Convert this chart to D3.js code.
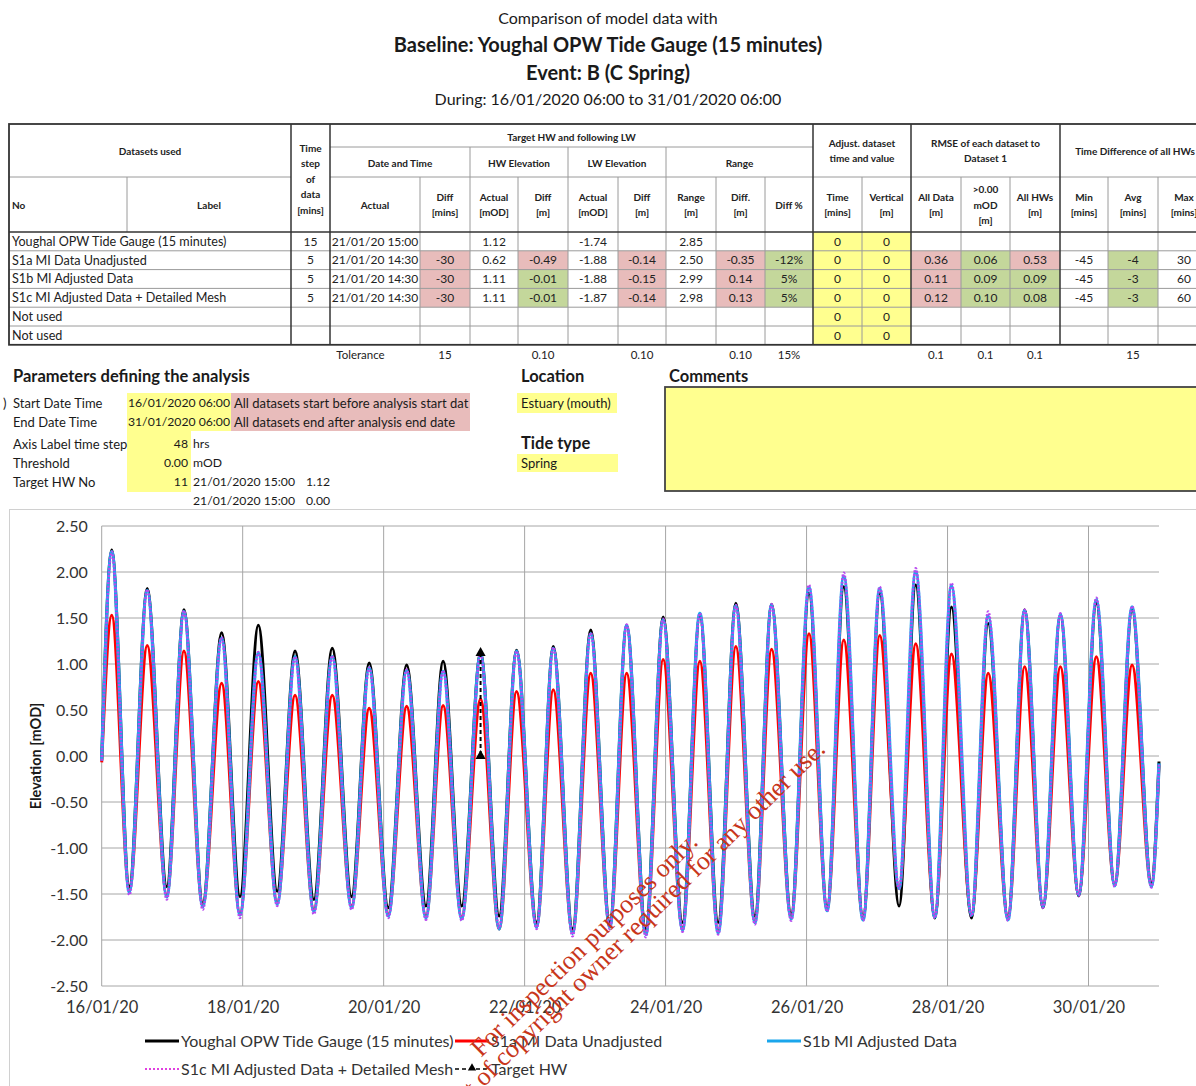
<!DOCTYPE html>
<html><head><meta charset="utf-8">
<script src="https://cdn.jsdelivr.net/npm/d3@7"></script>
<style>
body{margin:0;background:#fff}
svg{display:block}
text{font-family:Lato,"Open Sans",sans-serif}
</style>
</head><body>
<svg id="c" width="1196" height="1086"></svg>
<script>
// ---------------- DATA ----------------
const titleLines = ["Comparison of model data with","Baseline: Youghal OPW Tide Gauge (15 minutes)","Event: B (C Spring)","During: 16/01/2020 06:00 to 31/01/2020 06:00"];

const datasetLabels = ["Youghal OPW Tide Gauge (15 minutes)","S1a MI Data Unadjusted","S1b MI Adjusted Data","S1c MI Adjusted Data + Detailed Mesh","Not used","Not used"];
const timeSteps   = [15,5,5,5,null,null];
const hwDateTimes = ["21/01/20 15:00","21/01/20 14:30","21/01/20 14:30","21/01/20 14:30",null,null];
const hwTimeDiff  = [null,-30,-30,-30,null,null];
const hwActual    = [1.12,0.62,1.11,1.11,null,null];
const hwDiff      = [null,-0.49,-0.01,-0.01,null,null];
const lwActual    = [-1.74,-1.88,-1.88,-1.87,null,null];
const lwDiff      = [null,-0.14,-0.15,-0.14,null,null];
const rangeActual = [2.85,2.50,2.99,2.98,null,null];
const rangeDiff   = [null,-0.35,0.14,0.13,null,null];
const rangePct    = [null,-12,5,5,null,null];
const adjTime     = [0,0,0,0,0,0];
const adjVertical = [0,0,0,0,0,0];
const rmseAll     = [null,0.36,0.11,0.12,null,null];
const rmsePos     = [null,0.06,0.09,0.10,null,null];
const rmseHW      = [null,0.53,0.09,0.08,null,null];
const tdMin       = [null,-45,-45,-45,null,null];
const tdAvg       = [null,-4,-3,-3,null,null];
const tdMax       = [null,30,60,60,null,null];
// tolerances
const tolTime = 15, tolHW = 0.10, tolLW = 0.10, tolRange = 0.10, tolPct = 15, tolRmse = 0.1, tolAvg = 15;

// parameters
const startTime = "2020-01-16 06:00", endTime = "2020-01-31 06:00";
const axisStepHrs = 48, threshold = 0.00, targetHWNo = 11;
const targetTimes  = ["2020-01-21 15:00","2020-01-21 15:00"];
const targetValues = [1.12, 0.00];
const locationName = "Estuary (mouth)", tideType = "Spring";

// x-axis tick labels (every 48 h from start)
const xTickTimes = ["2020-01-16 06:00","2020-01-18 06:00","2020-01-20 06:00","2020-01-22 06:00","2020-01-24 06:00","2020-01-26 06:00","2020-01-28 06:00","2020-01-30 06:00"];
const yTicks = [-2.5,-2,-1.5,-1,-0.5,0,0.5,1,1.5,2,2.5];

// times of high and low waters
const hwTimes = ["2020-01-16 09:25","2020-01-16 21:30","2020-01-17 10:00","2020-01-17 22:50","2020-01-18 11:20","2020-01-18 23:50","2020-01-19 12:30","2020-01-20 01:05","2020-01-20 13:50","2020-01-21 02:15","2020-01-21 15:00","2020-01-22 03:15","2020-01-22 15:45","2020-01-23 04:30","2020-01-23 16:45","2020-01-24 05:10","2020-01-24 17:40","2020-01-25 05:55","2020-01-25 18:05","2020-01-26 06:50","2020-01-26 18:40","2020-01-27 06:55","2020-01-27 19:10","2020-01-28 07:20","2020-01-28 19:50","2020-01-29 08:15","2020-01-29 20:25","2020-01-30 08:40","2020-01-30 20:50"];
const lwTimes = ["2020-01-16 15:25","2020-01-17 04:10","2020-01-17 16:25","2020-01-18 05:05","2020-01-18 17:45","2020-01-19 06:15","2020-01-19 19:05","2020-01-20 07:35","2020-01-20 20:25","2020-01-21 08:35","2020-01-21 21:20","2020-01-22 10:05","2020-01-22 22:20","2020-01-23 11:00","2020-01-23 23:15","2020-01-24 11:45","2020-01-24 23:55","2020-01-25 12:25","2020-01-26 00:45","2020-01-26 13:00","2020-01-27 01:15","2020-01-27 13:30","2020-01-28 01:40","2020-01-28 14:10","2020-01-29 02:35","2020-01-29 14:30","2020-01-30 02:40","2020-01-30 14:55","2020-01-31 03:25"];

// Youghal OPW tide gauge
const gaugeStart = -0.04, gaugeEnd = -0.06;
const gaugeHW = [2.24,1.82,1.59,1.34,1.42,1.14,1.17,1.01,0.99,1.03,1.12,1.15,1.19,1.37,1.42,1.51,1.53,1.66,1.65,1.77,1.84,1.77,1.86,1.62,1.44,1.59,1.53,1.66,1.59];
const gaugeLW = [-1.42,-1.42,-1.60,-1.53,-1.47,-1.56,-1.53,-1.65,-1.63,-1.63,-1.74,-1.81,-1.88,-1.81,-1.88,-1.81,-1.81,-1.74,-1.72,-1.65,-1.76,-1.63,-1.76,-1.76,-1.76,-1.65,-1.52,-1.40,-1.38];
// S1a MI Data Unadjusted
const s1aStart = -0.07, s1aEnd = -0.10;
const s1aHW = [1.53,1.20,1.14,0.79,0.81,0.66,0.66,0.52,0.54,0.55,0.62,0.70,0.72,0.90,0.90,1.05,1.03,1.19,1.16,1.33,1.26,1.31,1.22,1.11,0.90,0.97,0.97,1.08,0.99];
const s1aLW = [-1.46,-1.51,-1.62,-1.71,-1.59,-1.67,-1.63,-1.72,-1.74,-1.75,-1.88,-1.85,-1.92,-1.85,-1.93,-1.87,-1.90,-1.80,-1.76,-1.67,-1.76,-1.44,-1.74,-1.72,-1.76,-1.63,-1.50,-1.40,-1.41];
// S1b MI Adjusted Data
const s1bStart = -0.05, s1bEnd = -0.08;
const s1bHW = [2.22,1.80,1.57,1.28,1.12,1.08,1.08,0.96,0.93,0.92,1.11,1.14,1.17,1.33,1.42,1.48,1.55,1.63,1.64,1.83,1.95,1.82,2.00,1.85,1.52,1.58,1.54,1.70,1.62];
const s1bLW = [-1.48,-1.53,-1.64,-1.73,-1.61,-1.69,-1.65,-1.74,-1.76,-1.77,-1.88,-1.86,-1.93,-1.86,-1.94,-1.89,-1.92,-1.81,-1.77,-1.68,-1.78,-1.44,-1.75,-1.73,-1.78,-1.64,-1.51,-1.41,-1.42];
// S1c MI Adjusted Data + Detailed Mesh
const s1cStart = -0.05, s1cEnd = -0.08;
const s1cHW = [2.22,1.81,1.58,1.29,1.13,1.08,1.09,0.96,0.94,0.93,1.11,1.14,1.18,1.34,1.43,1.49,1.55,1.64,1.65,1.86,1.99,1.84,2.04,1.88,1.57,1.59,1.55,1.72,1.63];
const s1cLW = [-1.51,-1.56,-1.67,-1.76,-1.63,-1.72,-1.67,-1.76,-1.78,-1.79,-1.87,-1.88,-1.96,-1.88,-1.97,-1.91,-1.94,-1.83,-1.79,-1.69,-1.79,-1.44,-1.76,-1.74,-1.79,-1.65,-1.52,-1.42,-1.43];

const legendNames = ["Youghal OPW Tide Gauge (15 minutes)","S1a MI Data Unadjusted","S1b MI Adjusted Data","S1c MI Adjusted Data + Detailed Mesh","Target HW"];
const watermarkLines = ["For inspection purposes only.","Consent of copyright owner required for any other use."];

// ---------------- DRAW ----------------
const svg = d3.select("#c");
const parse = d3.timeParse("%Y-%m-%d %H:%M");
const PINK = "#E8BCBB", GREEN = "#C4D79B", YELLOW = "#FFFF8F";
const INK = "#1a1a1a";

// Titles
const titleY = [20,47,75,101], titleSize = [16,20,20,16], titleW = [400,700,700,400];
titleLines.forEach((t,i)=>{
  svg.append("text").attr("x",608).attr("y",titleY[i]).attr("text-anchor","middle")
    .attr("dominant-baseline","middle").attr("font-size",titleSize[i]).attr("font-weight",titleW[i]).attr("fill",INK).text(t);
});

// ---------- Table ----------
const colX = [9,127,291,330,420,470,518,568,618,666,716,765,813,862,911,961,1010,1060,1108,1158,1210];
const tTop = 124, r1 = 147, r2 = 177, hBot = 232, rowH = 18.8;
const tBot = hBot + rowH*6;
const tbl = svg.append("g");

function fmt2(v){ return v==null?"":v.toFixed(2); }
function fmtI(v){ return v==null?"":String(v); }
function fmtP(v){ return v==null?"":v+"%"; }
function judge(v,tol){ if(v==null) return null; return Math.abs(v) > tol + 1e-9 ? PINK : GREEN; }

const cols = [
  {vals: timeSteps, f: fmtI},
  {vals: hwDateTimes, f: v=>v==null?"":v},
  {vals: hwTimeDiff, f: fmtI, tol: tolTime},
  {vals: hwActual, f: fmt2},
  {vals: hwDiff, f: fmt2, tol: tolHW},
  {vals: lwActual, f: fmt2},
  {vals: lwDiff, f: fmt2, tol: tolLW},
  {vals: rangeActual, f: fmt2},
  {vals: rangeDiff, f: fmt2, tol: tolRange},
  {vals: rangePct, f: fmtP, tol: tolPct},
  {vals: adjTime, f: fmtI, fill: YELLOW},
  {vals: adjVertical, f: fmtI, fill: YELLOW},
  {vals: rmseAll, f: fmt2, tol: tolRmse},
  {vals: rmsePos, f: fmt2, tol: tolRmse},
  {vals: rmseHW, f: fmt2, tol: tolRmse},
  {vals: tdMin, f: fmtI},
  {vals: tdAvg, f: fmtI, tol: tolAvg},
  {vals: tdMax, f: fmtI}
];

cols.forEach((c,ci)=>{
  const x0 = colX[ci+2], x1 = colX[ci+3];
  c.vals.forEach((v,ri)=>{
    const fill = c.fill ? c.fill : (c.tol!=null ? judge(v,c.tol) : null);
    if(fill){
      tbl.append("rect").attr("x",x0).attr("y",hBot+ri*rowH).attr("width",x1-x0).attr("height",rowH).attr("fill",fill);
    }
  });
});

const thin = "#9a9a9a", thick = "#333";
function hline(x0,x1,y,c,w){ tbl.append("line").attr("x1",x0).attr("x2",x1).attr("y1",y).attr("y2",y).attr("stroke",c).attr("stroke-width",w); }
function vline(x,y0,y1,c,w){ tbl.append("line").attr("x1",x).attr("x2",x).attr("y1",y0).attr("y2",y1).attr("stroke",c).attr("stroke-width",w); }
for(let i=1;i<6;i++) hline(colX[0],colX[20],hBot+i*rowH,thin,1);
hline(colX[3],colX[12],r1,thin,1);
hline(colX[0],colX[2],r2,thin,1);
hline(colX[3],colX[20],r2,thin,1);
vline(colX[1],r2,hBot,thin,1);
[4,5,6,7,8,9,10,11,13,15,16,18,19].forEach(i=>vline(colX[i],r2,tBot,thin,1));
vline(colX[5],r1,r2,thin,1); vline(colX[7],r1,r2,thin,1); vline(colX[9],r1,r2,thin,1);
[2,3,12,14,17].forEach(i=>vline(colX[i],tTop,tBot,thick,1.5));
hline(colX[0],colX[20],hBot,thick,1.5);
tbl.append("rect").attr("x",colX[0]).attr("y",tTop).attr("width",colX[20]-colX[0]).attr("height",tBot-tTop)
  .attr("fill","none").attr("stroke",thick).attr("stroke-width",1.8);

function htext(x,y,lines,anchor,size,weight){
  const lh = 15.5;
  const t = tbl.append("text").attr("x",x).attr("text-anchor",anchor||"middle").attr("font-size",size||10)
    .attr("font-weight",weight||700).attr("fill","#222");
  lines.forEach((l,i)=>{
    t.append("tspan").attr("x",x).attr("y", y - (lines.length-1)*lh/2 + i*lh).attr("dy","0.35em").text(l);
  });
}
const mid = (a,b)=>(colX[a]+colX[b])/2;
htext(mid(0,2),151,["Datasets used"]);
htext(mid(2,3),179,["Time","step","of","data","[mins]"]);
htext(mid(3,12),137,["Target HW and following LW"]);
htext(mid(3,5),163,["Date and Time"]);
htext(mid(5,7),163,["HW Elevation"]);
htext(mid(7,9),163,["LW Elevation"]);
htext(mid(9,12),163,["Range"]);
htext(mid(12,14),151,["Adjust. dataset","time and value"]);
htext(mid(14,17),151,["RMSE of each dataset to","Dataset 1"]);
htext(mid(17,20),151,["Time Difference of all HWs"]);
htext(colX[0]+3,205,["No"],"start");
htext(mid(1,2),205,["Label"]);
htext(mid(3,4),205,["Actual"]);
const row3 = [["Diff","[mins]"],["Actual","[mOD]"],["Diff","[m]"],["Actual","[mOD]"],["Diff","[m]"],["Range","[m]"],["Diff.","[m]"],["Diff %"],["Time","[mins]"],["Vertical","[m]"],["All Data","[m]"],[">0.00","mOD","[m]"],["All HWs","[m]"],["Min","[mins]"],["Avg","[mins]"],["Max","[mins]"]];
row3.forEach((l,i)=>htext(mid(i+4,i+5),205,l));

datasetLabels.forEach((l,ri)=>{
  tbl.append("text").attr("x",colX[0]+3).attr("y",hBot+ri*rowH+rowH/2).attr("dy","0.35em")
    .attr("font-size",12.6).attr("fill","#222").text(l);
});
cols.forEach((c,ci)=>{
  c.vals.forEach((v,ri)=>{
    const s = c.f(v);
    if(s==="") return;
    tbl.append("text").attr("x",mid(ci+2,ci+3)).attr("y",hBot+ri*rowH+rowH/2).attr("dy","0.35em")
      .attr("text-anchor","middle").attr("font-size",12).attr("fill","#222").text(s);
  });
});
const tolY = 355;
const tolItems = [[mid(2,4)+5,"Tolerance"],[mid(4,5),fmtI(tolTime)],[mid(6,7),fmt2(tolHW)],[mid(8,9),fmt2(tolLW)],[mid(10,11),fmt2(tolRange)],[mid(11,12),fmtP(tolPct)],[mid(14,15),String(tolRmse)],[mid(15,16),String(tolRmse)],[mid(16,17),String(tolRmse)],[mid(18,19),fmtI(tolAvg)]];
tolItems.forEach(([x,s])=>svg.append("text").attr("x",x).attr("y",tolY).attr("dy","0.35em").attr("text-anchor","middle")
  .attr("font-size",11.5).attr("fill","#222").text(s));

// ---------- Parameters ----------
const pg = svg.append("g");
const PF = 13;
pg.append("rect").attr("x",127).attr("y",393).attr("width",104).attr("height",38).attr("fill",YELLOW);
pg.append("rect").attr("x",127).attr("y",431).attr("width",64).attr("height",61).attr("fill",YELLOW);
pg.append("rect").attr("x",231).attr("y",393).attr("width",239).attr("height",38).attr("fill",PINK);
pg.append("text").attr("x",13).attr("y",376).attr("dy","0.35em").attr("font-size",16.5).attr("font-weight",700).attr("fill",INK).text("Parameters defining the analysis");
const fmtDT = d3.timeFormat("%d/%m/%Y %H:%M");
const pRows = [
  {y:403, label:"Start Date Time", val:fmtDT(parse(startTime)), note:"All datasets start before analysis start dat"},
  {y:422, label:"End Date Time", val:fmtDT(parse(endTime)), note:"All datasets end after analysis end date"}
];
pg.append("text").attr("x",3).attr("y",403).attr("dy","0.35em").attr("font-size",PF).attr("fill",INK).text(")");
pRows.forEach(r=>{
  pg.append("text").attr("x",13).attr("y",r.y).attr("dy","0.35em").attr("font-size",PF).attr("fill",INK).text(r.label);
  pg.append("text").attr("x",230).attr("y",r.y).attr("dy","0.35em").attr("font-size",12.2).attr("fill",INK).attr("text-anchor","end").text(r.val);
  pg.append("text").attr("x",234).attr("y",r.y).attr("dy","0.35em").attr("font-size",PF).attr("fill",INK).text(r.note);
});
const pRows2 = [
  {y:444,label:"Axis Label time step",val:String(axisStepHrs),unit:"hrs"},
  {y:463,label:"Threshold",val:threshold.toFixed(2),unit:"mOD"},
  {y:482,label:"Target HW No",val:String(targetHWNo),unit:fmtDT(parse(targetTimes[0]))}
];
pRows2.forEach(r=>{
  pg.append("text").attr("x",13).attr("y",r.y).attr("dy","0.35em").attr("font-size",PF).attr("fill",INK).text(r.label);
  pg.append("text").attr("x",188).attr("y",r.y).attr("dy","0.35em").attr("font-size",12.2).attr("fill",INK).attr("text-anchor","end").text(r.val);
  pg.append("text").attr("x",193).attr("y",r.y).attr("dy","0.35em").attr("font-size",12.2).attr("fill",INK).text(r.unit);
});
pg.append("text").attr("x",306).attr("y",482).attr("dy","0.35em").attr("font-size",12.2).attr("fill",INK).text(targetValues[0].toFixed(2));
pg.append("text").attr("x",193).attr("y",501).attr("dy","0.35em").attr("font-size",12.2).attr("fill",INK).text(fmtDT(parse(targetTimes[1])));
pg.append("text").attr("x",306).attr("y",501).attr("dy","0.35em").attr("font-size",12.2).attr("fill",INK).text(targetValues[1].toFixed(2));

pg.append("text").attr("x",521).attr("y",376).attr("dy","0.35em").attr("font-size",16.5).attr("font-weight",700).attr("fill",INK).text("Location");
pg.append("rect").attr("x",517).attr("y",393).attr("width",100).attr("height",20).attr("fill",YELLOW);
pg.append("text").attr("x",521).attr("y",403).attr("dy","0.35em").attr("font-size",PF).attr("fill",INK).text(locationName);
pg.append("text").attr("x",521).attr("y",443).attr("dy","0.35em").attr("font-size",16.5).attr("font-weight",700).attr("fill",INK).text("Tide type");
pg.append("rect").attr("x",517).attr("y",454).attr("width",101).attr("height",18).attr("fill",YELLOW);
pg.append("text").attr("x",521).attr("y",463).attr("dy","0.35em").attr("font-size",PF).attr("fill",INK).text(tideType);
pg.append("text").attr("x",669).attr("y",376).attr("dy","0.35em").attr("font-size",16.5).attr("font-weight",700).attr("fill",INK).text("Comments");
pg.append("rect").attr("x",665).attr("y",387).attr("width",545).attr("height",104).attr("fill",YELLOW).attr("stroke","#444").attr("stroke-width",1.8);

// ---------- Chart ----------
svg.append("rect").attr("x",9.5).attr("y",509.5).attr("width",1200).attr("height",600).attr("fill","#fff").attr("stroke","#d0d0d0").attr("stroke-width",1);

const x = d3.scaleTime().domain([parse(startTime), parse(endTime)]).range([101.7, 1159]);
const y = d3.scaleLinear().domain([-2.5, 2.5]).range([986, 526]);
const fmtY = v => v.toFixed(2);
const fmtX = d3.timeFormat("%d/%m/%y");
const xTicks = xTickTimes.map(parse);

const grid = svg.append("g");
grid.selectAll("line.h").data(yTicks).join("line").attr("class","h")
  .attr("x1",x.range()[0]).attr("x2",x.range()[1]).attr("y1",d=>y(d)).attr("y2",d=>y(d))
  .attr("stroke","#a6a6a6").attr("stroke-width",1);
grid.selectAll("line.v").data(xTicks).join("line").attr("class","v")
  .attr("x1",d=>x(d)).attr("x2",d=>x(d)).attr("y1",y(2.5)).attr("y2",y(-2.5))
  .attr("stroke","#a6a6a6").attr("stroke-width",1);

const yAxis = svg.append("g").attr("transform",`translate(${x.range()[0]},0)`)
  .call(d3.axisLeft(y).tickValues(yTicks).tickFormat(fmtY).tickSize(0).tickPadding(14));
yAxis.select(".domain").remove();
yAxis.selectAll("text").attr("font-size",16).attr("fill","#333").style("font-family","Lato,sans-serif");

const xAxis = svg.append("g").attr("transform",`translate(0,${y(-2.5)})`)
  .call(d3.axisBottom(x).tickValues(xTicks).tickFormat(fmtX).tickSize(0).tickPadding(15));
xAxis.select(".domain").remove();
xAxis.selectAll("text").attr("font-size",16.5).attr("fill","#333").style("font-family","Lato,sans-serif");

svg.append("text").attr("transform",`translate(37,${y(0)}) rotate(-90)`).attr("text-anchor","middle")
  .attr("dominant-baseline","middle").attr("font-size",14.5).attr("font-weight",700).attr("fill",INK).text("Elevation [mOD]");

function buildSeries(s, hw, lw, e){
  const pts = [{t:parse(startTime), v:s}];
  hw.forEach((v,i)=>pts.push({t:parse(hwTimes[i]), v}));
  lw.forEach((v,i)=>pts.push({t:parse(lwTimes[i]), v}));
  pts.push({t:parse(endTime), v:e});
  return pts.sort((a,b)=>a.t-b.t);
}
const line = d3.line().x(d=>x(d.t)).y(d=>y(d.v)).curve(d3.curveMonotoneX);
const series = [
  {pts: buildSeries(gaugeStart,gaugeHW,gaugeLW,gaugeEnd), color:"#000", w:3, dash:null},
  {pts: buildSeries(s1aStart,s1aHW,s1aLW,s1aEnd), color:"#ff0000", w:3, dash:null},
  {pts: buildSeries(s1bStart,s1bHW,s1bLW,s1bEnd), color:"#1aa6ec", w:3.4, dash:null},
  {pts: buildSeries(s1cStart,s1cHW,s1cLW,s1cEnd), color:"#b848ee", w:2.6, dash:"2,1.6"}
];
const plot = svg.append("g");
series.forEach(s=>{
  plot.append("path").datum(s.pts).attr("d",line).attr("fill","none").attr("stroke",s.color)
    .attr("stroke-width",s.w).attr("stroke-dasharray",s.dash).attr("stroke-linejoin","round");
});
const tgt = targetTimes.map((t,i)=>({t:parse(t), v:targetValues[i]}));
plot.append("path").datum(tgt).attr("d",d3.line().x(d=>x(d.t)).y(d=>y(d.v))).attr("fill","none")
  .attr("stroke","#000").attr("stroke-width",2).attr("stroke-dasharray","4,3");
plot.selectAll("path.tri").data(tgt).join("path").attr("class","tri")
  .attr("transform",d=>`translate(${x(d.t)},${y(d.v)})`).attr("d",d3.symbol(d3.symbolTriangle).size(45)).attr("fill","#000");

// legend
const lg = svg.append("g");
const legendItems = [
  {x:145,y:1041,color:"#000",w:3,dash:null},
  {x:455,y:1041,color:"#ff0000",w:3,dash:null},
  {x:767,y:1041,color:"#1aa6ec",w:3,dash:null},
  {x:145,y:1069,color:"#e040e0",w:2,dash:"2,2"},
  {x:455,y:1069,color:"#000",w:1.5,dash:"4,3",marker:true}
];
legendItems.forEach((it,i)=>{
  lg.append("line").attr("x1",it.x).attr("x2",it.x+34).attr("y1",it.y).attr("y2",it.y)
    .attr("stroke",it.color).attr("stroke-width",it.w).attr("stroke-dasharray",it.dash);
  if(it.marker) lg.append("path").attr("transform",`translate(${it.x+17},${it.y-1})`).attr("d",d3.symbol(d3.symbolTriangle).size(30)).attr("fill","#000");
  lg.append("text").attr("x",it.x+36).attr("y",it.y).attr("dy","0.35em").attr("font-size",16).attr("fill","#333").text(legendNames[i]);
});

// watermark
const wm = svg.append("g").attr("transform","translate(481,1058) rotate(-44.5)");
wm.append("text").attr("x",0).attr("y",0).attr("text-anchor","start").attr("font-size",26)
  .style("font-family","'Liberation Serif','DejaVu Serif',serif").style("fill","#c8361b").text(watermarkLines[0]);
wm.append("text").attr("x",462).attr("y",23).attr("text-anchor","end").attr("font-size",26)
  .style("font-family","'Liberation Serif','DejaVu Serif',serif").style("fill","#c8361b").text(watermarkLines[1]);
</script>
</body></html>
